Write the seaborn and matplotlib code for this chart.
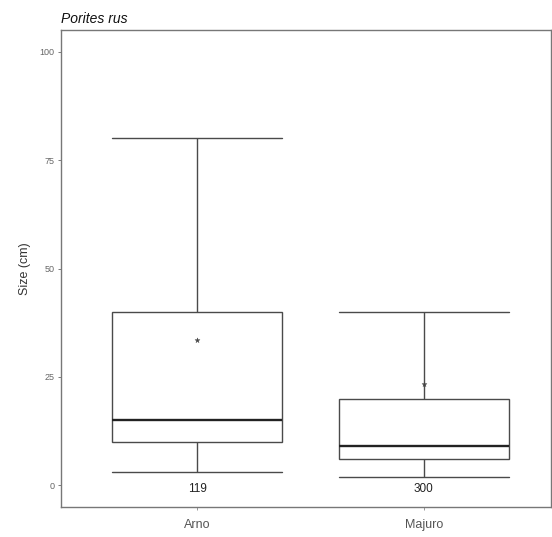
import numpy as np
import pandas as pd
import matplotlib
matplotlib.use("Agg")
import matplotlib.pyplot as plt
import seaborn as sns

# Summary of colony sizes per atoll
sites = ["Arno", "Majuro"]
whisker_low = [3, 2]
q1 = [10, 6]
median = [15, 9]
q3 = [40, 20]
whisker_high = [80, 40]
mean_size = [33.6, 23.4]
counts = [119, 300]

# Five-number summaries laid out as rows so the box spans Q1..Q3 and whiskers the range
rows = []
for i, s in enumerate(sites):
    for v in (whisker_low[i], q1[i], median[i], q3[i], whisker_high[i]):
        rows.append({"Site": s, "Size": v})
df = pd.DataFrame(rows)
means = pd.DataFrame({"Site": sites, "Mean": mean_size})

sns.set_theme(style="white")
plt.rcParams["font.family"] = ["Liberation Sans", "DejaVu Sans"]

fig = plt.figure(figsize=(5.52, 5.37), dpi=100)
ax = fig.add_axes([0.1105, 0.056, 0.8875, 0.888])

line_col = "#4a4a4a"
sns.boxplot(
    data=df, x="Site", y="Size", order=sites, whis=(0, 100), width=0.75,
    color="white", linecolor=line_col, linewidth=1.0, fliersize=0,
    capwidths=0.75,
    medianprops={"linewidth": 1.7, "color": "#222222"},
    ax=ax,
)
sns.scatterplot(data=means, x="Site", y="Mean", marker="*", s=14,
                color="#444444", edgecolor="#444444", linewidth=0.3, ax=ax,
                zorder=5, legend=False)

for i, n in enumerate(counts):
    ax.text(i, -0.8, str(n), ha="center", va="center", fontsize=8.5,
            color="#222222")

ax.set_xlim(-0.6, 1.56)
ax.set_ylim(-5, 105)
ax.set_yticks([0, 25, 50, 75, 100])
ax.set_xlabel("")
ax.set_ylabel("Size (cm)", fontsize=9, color="#333333", labelpad=6)
ax.tick_params(axis="y", labelsize=6.5, labelcolor="#666666", length=2.5,
               width=0.6, color="#666666", left=True, pad=2)
ax.tick_params(axis="x", labelsize=9, labelcolor="#555555", length=2.5,
               width=0.6, color="#888888", bottom=True, pad=6)
for sp in ax.spines.values():
    sp.set_color("#777777")
    sp.set_linewidth(1.0)

ax.set_title("Porites rus", loc="left", fontsize=10, style="italic",
             color="#111111", pad=5)

fig.savefig("out.png", dpi=100)
